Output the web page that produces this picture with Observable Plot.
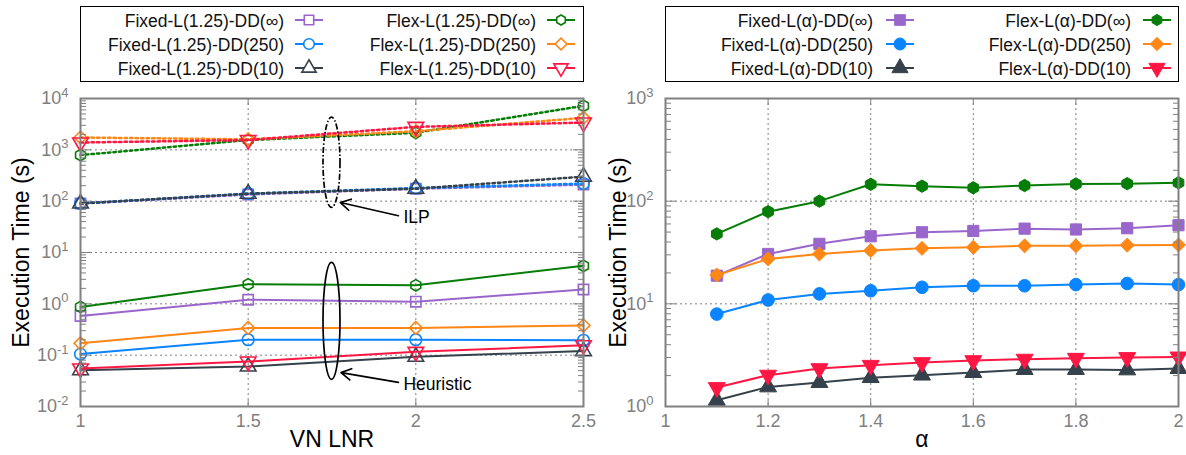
<!DOCTYPE html>
<html><head><meta charset="utf-8">
<script src="https://cdn.jsdelivr.net/npm/d3@7"></script>
<script src="https://cdn.jsdelivr.net/npm/@observablehq/plot@0.6"></script>
<style>
body{margin:0;background:#fff;font-family:"Liberation Sans",Arial,sans-serif;}
#wrap{position:relative;width:1186px;height:455px;overflow:hidden;}
.panel{position:absolute;top:0;}
.legend{position:absolute;top:6px;height:76px;border:1px solid #000;box-sizing:border-box;background:#fff;}
.item{position:absolute;font-size:17.5px;color:#111;white-space:nowrap;line-height:20px;}
.sample{position:absolute;overflow:visible;}
g[aria-label="y-axis label"] text, g[aria-label="x-axis label"] text{fill:#000;font-size:23px;}
</style></head><body><div id="wrap"></div>
<script>
// ---------- data ----------
const lnr = [1, 1.5, 2, 2.5];
const lnrTicks = [1, 1.5, 2, 2.5];
const alpha = [1.1, 1.2, 1.3, 1.4, 1.5, 1.6, 1.7, 1.8, 1.9, 2.0];
const alphaTicks = [1, 1.2, 1.4, 1.6, 1.8, 2];

const leftNames = ["Fixed-L(1.25)-DD(∞)", "Fixed-L(1.25)-DD(250)", "Fixed-L(1.25)-DD(10)",
                   "Flex-L(1.25)-DD(∞)", "Flex-L(1.25)-DD(250)", "Flex-L(1.25)-DD(10)"];
const rightNames = ["Fixed-L(α)-DD(∞)", "Fixed-L(α)-DD(250)", "Fixed-L(α)-DD(10)",
                    "Flex-L(α)-DD(∞)", "Flex-L(α)-DD(250)", "Flex-L(α)-DD(10)"];

// Left: ILP (dotted)
const ilpFixedInf = [90, 135, 175, 210];
const ilpFixed250 = [90, 140, 180, 220];
const ilpFixed10  = [90, 140, 175, 300];
const ilpFlexInf  = [790, 1550, 2150, 7200];
const ilpFlex250  = [1740, 1600, 2300, 4200];
const ilpFlex10   = [1390, 1550, 2800, 3400];
// Left: Heuristic (solid)
const heurFixedInf = [0.58, 1.2, 1.1, 1.9];
const heurFixed250 = [0.105, 0.20, 0.20, 0.195];
const heurFixed10  = [0.051, 0.06, 0.093, 0.12];
const heurFlexInf  = [0.87, 2.4, 2.3, 5.5];
const heurFlex250  = [0.17, 0.34, 0.34, 0.38];
const heurFlex10   = [0.055, 0.075, 0.116, 0.156];

// Right
const alphaFixedInf = [18.8, 30.6, 38.4, 45.5, 49.8, 51.3, 54, 53, 54.5, 58.3];
const alphaFixed250 = [7.95, 10.9, 12.5, 13.4, 14.5, 15.0, 15.0, 15.4, 15.8, 15.4];
const alphaFixed10  = [1.15, 1.55, 1.71, 1.91, 2.02, 2.14, 2.29, 2.29, 2.27, 2.34];
const alphaFlexInf  = [48, 79, 100, 146, 140, 135, 142, 147, 148, 151];
const alphaFlex250  = [19.1, 27.4, 30.6, 33, 34.7, 35.5, 36.7, 36.7, 37.3, 37.5];
const alphaFlex10   = [1.53, 2.02, 2.34, 2.52, 2.68, 2.8, 2.89, 2.95, 3.0, 3.04];

// annotations (data coordinates of the left panel)
const annEllipses = [
  {x: 1.75, top: 4230, bottom: 74, dashed: true},
  {x: 1.75, top: 6.3, bottom: 0.033, dashed: false}
];
const annArrows = [
  {x1: 1.948, y1: 52, x2: 1.775, y2: 94},
  {x1: 1.948, y1: 0.0295, x2: 1.777, y2: 0.0457}
];
const annLabels = [
  {x: 1.963, y: 48, text: "ILP"},
  {x: 1.963, y: 0.0275, text: "Heuristic"}
];

// ---------- styles ----------
const colors  = ["#9966cc", "#0a84ff", "#35414b", "#067d06", "#ff8716", "#ff1744"];
const symbols = ["square", "circle", "triangle", "hexagon", "diamond2", "triangle"];
const rotates = [0, 0, 0, 0, 0, 180];
const sizeScale = [1, 1, 1, 0.85, 1, 1];

function logTicks(lo, hi) {
  const majors = [], minors = [];
  for (let e = lo; e <= hi; e++) {
    majors.push(10 ** e);
    if (e < hi) for (let k = 2; k <= 9; k++) minors.push(k * 10 ** e);
  }
  return {majors, minors};
}

function chart(cfg) {
  const {majors, minors} = logTicks(cfg.yExp[0], cfg.yExp[1]);
  const gray = "#808080";
  const marks = [
    Plot.gridY(majors, {stroke: gray, strokeOpacity: 1, strokeDasharray: "2,3", strokeWidth: 1}),
    Plot.gridX(cfg.xTicks, {stroke: gray, strokeOpacity: 1, strokeDasharray: "2,3", strokeWidth: 1})
  ];
  for (const s of cfg.series) {
    const data = s.values.map((v, i) => ({x: cfg.xs[i], y: v}));
    marks.push(Plot.line(data, {x: "x", y: "y", stroke: s.color, strokeWidth: s.dotted ? 2.5 : 2,
      strokeDasharray: s.dotted ? "2.5,3" : null}));
    marks.push(Plot.dot(data, {x: "x", y: "y", symbol: s.symbol, rotate: s.rotate, r: s.r * s.k,
      stroke: s.color, fill: s.filled ? s.color : "none", strokeWidth: s.filled ? 1 : 1.6}));
  }
  const blank = () => "";
  marks.push(
    Plot.axisY({anchor: "left", ticks: minors, tickSize: -6, tickFormat: blank, label: null, stroke: gray}),
    Plot.axisY({anchor: "right", ticks: minors, tickSize: -6, tickFormat: blank, label: null, stroke: gray}),
    Plot.axisY({anchor: "left", ticks: majors, tickSize: -11, tickFormat: blank, label: null, stroke: gray}),
    Plot.axisY({anchor: "right", ticks: majors, tickSize: -11, tickFormat: blank, label: null, stroke: gray}),
    Plot.axisX({anchor: "bottom", ticks: cfg.xTicks, tickSize: -6, tickFormat: blank, label: null, stroke: gray}),
    Plot.axisX({anchor: "top", ticks: cfg.xTicks, tickSize: -6, tickFormat: blank, label: null, stroke: gray}),
    Plot.axisY({anchor: "left", ticks: majors, tickSize: 0, tickPadding: 12, fontSize: 18, fill: gray,
      tickFormat: d => "10^" + Math.round(Math.log10(d)),
      label: "Execution Time (s)", labelAnchor: "center", labelOffset: cfg.yLabelOffset, labelArrow: "none"}),
    Plot.axisX({anchor: "bottom", ticks: cfg.xTicks, tickSize: 0, tickPadding: 8, fontSize: 18, fill: gray,
      tickFormat: d => String(+d.toFixed(2)),
      label: cfg.xLabel, labelAnchor: "center", labelOffset: 40, labelArrow: "none"}),
    Plot.frame({stroke: gray, strokeWidth: 2})
  );
  if (cfg.top) marks.push(...cfg.top);
  const svg = Plot.plot({
    width: cfg.width, height: 455,
    marginTop: 98, marginBottom: 49, marginLeft: cfg.ml, marginRight: cfg.mr,
    x: {domain: cfg.xDomain},
    y: {type: "log", domain: [10 ** cfg.yExp[0], 10 ** cfg.yExp[1]]},
    style: {fontFamily: "'Liberation Sans', Arial, sans-serif", background: "transparent", overflow: "visible"},
    marks
  });
  d3.select(svg).selectAll("text").each(function () {
    const m = /^10\^(-?\d+)$/.exec(this.textContent);
    if (m) {
      this.textContent = "10";
      d3.select(this).append("tspan").attr("dy", "-0.55em").attr("font-size", "0.72em").text(m[1]);
    }
  });
  return svg;
}

function buildSeries(names, arrays, opts) {
  return names.map((n, i) => ({name: n, values: arrays[i], color: colors[i], symbol: symbols[i],
    rotate: rotates[i], k: sizeScale[i], ...opts}));
}

const ellipseMark = (index, scales) => {
  const g = d3.create("svg:g");
  for (const e of annEllipses) {
    const cx = scales.x(e.x), y1 = scales.y(e.top), y2 = scales.y(e.bottom);
    g.append("ellipse").attr("cx", cx).attr("cy", (y1 + y2) / 2).attr("rx", 8.5)
      .attr("ry", Math.abs(y2 - y1) / 2).attr("fill", "none").attr("stroke", "#000")
      .attr("stroke-width", 1.7).attr("stroke-dasharray", e.dashed ? "6,2,1.5,2" : null);
  }
  return g.node();
};

const leftSeries = [
  ...buildSeries(leftNames, [ilpFixedInf, ilpFixed250, ilpFixed10, ilpFlexInf, ilpFlex250, ilpFlex10], {dotted: true, filled: false, r: 5.8}),
  ...buildSeries(leftNames, [heurFixedInf, heurFixed250, heurFixed10, heurFlexInf, heurFlex250, heurFlex10], {dotted: false, filled: false, r: 5.8})
];
const rightSeries = buildSeries(rightNames, [alphaFixedInf, alphaFixed250, alphaFixed10, alphaFlexInf, alphaFlex250, alphaFlex10], {dotted: false, filled: true, r: 6.3});

const leftSvg = chart({
  xs: lnr, xTicks: lnrTicks, xDomain: [1, 2.5], yExp: [-2, 4], width: 600, ml: 80, mr: 17,
  xLabel: "VN LNR", yLabelOffset: 68, series: leftSeries,
  top: [
    ellipseMark,
    Plot.arrow(annArrows, {x1: "x1", y1: "y1", x2: "x2", y2: "y2", stroke: "#000", strokeWidth: 1.7, headLength: 10}),
    Plot.text(annLabels, {x: "x", y: "y", text: "text", textAnchor: "start", fontSize: 17.5, fill: "#000"})
  ]
});
const rightSvg = chart({
  xs: alpha, xTicks: alphaTicks, xDomain: [1, 2], yExp: [0, 3], width: 586, ml: 65, mr: 8,
  xLabel: "α", yLabelOffset: 56, series: rightSeries
});

const wrap = document.getElementById("wrap");
const p1 = document.createElement("div"); p1.className = "panel"; p1.style.left = "0px"; p1.appendChild(leftSvg);
const p2 = document.createElement("div"); p2.className = "panel"; p2.style.left = "600px"; p2.appendChild(rightSvg);
wrap.appendChild(p1); wrap.appendChild(p2);

// ---------- legends ----------
const hexagon = {draw(ctx, size) {
  const r = Math.sqrt(size / (1.5 * Math.sqrt(3)));
  for (let k = 0; k < 6; k++) {
    const a = Math.PI / 3 * k - Math.PI / 2;
    const px = r * Math.cos(a), py = r * Math.sin(a);
    k ? ctx.lineTo(px, py) : ctx.moveTo(px, py);
  }
  ctx.closePath();
}};
const symMap = {square: d3.symbolSquare, circle: d3.symbolCircle, triangle: d3.symbolTriangle,
  hexagon: hexagon, diamond2: d3.symbolDiamond2 || d3.symbolDiamond};

function legend(names, box, filled, r) {
  const div = document.createElement("div");
  div.className = "legend";
  div.style.left = box.left + "px"; div.style.width = box.width + "px";
  const rowsY = [14, 38, 62];
  names.forEach((n, i) => {
    const col = Math.floor(i / 3), row = i % 3;
    const it = document.createElement("div");
    it.className = "item";
    it.textContent = n;
    it.style.right = (box.width - box.textEnd[col]) + "px";
    it.style.top = (rowsY[row] - 10) + "px";
    div.appendChild(it);
    const s = d3.create("svg").attr("class", "sample").attr("width", 28).attr("height", 20)
      .style("left", box.sample[col] + "px").style("top", (rowsY[row] - 11) + "px");
    s.append("line").attr("x1", 0).attr("x2", 28).attr("y1", 10).attr("y2", 10)
      .attr("stroke", colors[i]).attr("stroke-width", 2);
    const rr = r * sizeScale[i];
    s.append("path").attr("d", d3.symbol(symMap[symbols[i]], Math.PI * rr * rr)())
      .attr("transform", `translate(14,10) rotate(${rotates[i]})`)
      .attr("fill", filled ? colors[i] : "white").attr("stroke", colors[i]).attr("stroke-width", filled ? 1 : 1.6);
    div.appendChild(s.node());
  });
  wrap.appendChild(div);
}
legend(leftNames, {left: 80, width: 504, textEnd: [205, 457], sample: [214, 466]}, false, 5.3);
legend(rightNames, {left: 665, width: 514, textEnd: [209, 467], sample: [220, 477]}, true, 6);
</script></body></html>
